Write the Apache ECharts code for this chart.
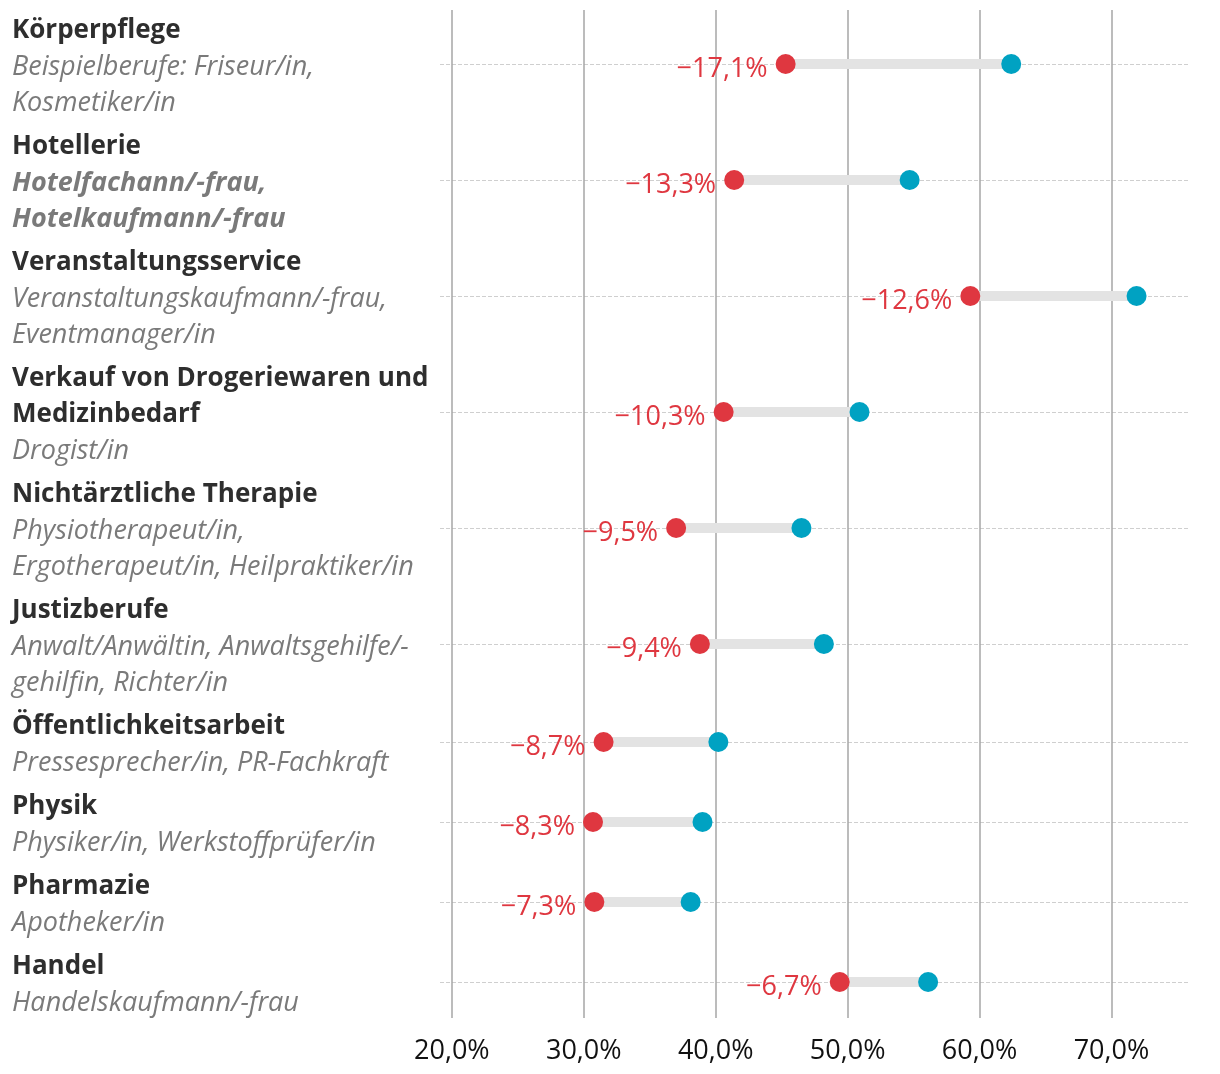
<!DOCTYPE html>
<html><head><meta charset="utf-8">
<script src="https://cdn.jsdelivr.net/npm/echarts@6/dist/echarts.min.js"></script>
<style>html,body{margin:0;padding:0;background:#fff}#c{width:1220px;height:1074px}</style>
</head><body><div id="c"></div>
<script>
const titles = [["Körperpflege"],["Hotellerie"],["Veranstaltungsservice"],["Verkauf von Drogeriewaren und","Medizinbedarf"],["Nichtärztliche Therapie"],["Justizberufe"],["Öffentlichkeitsarbeit"],["Physik"],["Pharmazie"],["Handel"]];
const subtitles = [["Beispielberufe: Friseur/in,","Kosmetiker/in"],["Hotelfachann/-frau,","Hotelkaufmann/-frau"],["Veranstaltungskaufmann/-frau,","Eventmanager/in"],["Drogist/in"],["Physiotherapeut/in,","Ergotherapeut/in, Heilpraktiker/in"],["Anwalt/Anwältin, Anwaltsgehilfe/-","gehilfin, Richter/in"],["Pressesprecher/in, PR-Fachkraft"],["Physiker/in, Werkstoffprüfer/in"],["Apotheker/in"],["Handelskaufmann/-frau"]];
const boldSubtitle = [false,true,false,false,false,false,false,false,false,false];
const valuesBefore = [62.4,54.7,71.9,50.9,46.5,48.2,40.2,39.0,38.1,56.1];
const valuesAfter = [45.3,41.4,59.3,40.6,37.0,38.8,31.5,30.7,30.8,49.4];
const changes = [-17.1,-13.3,-12.6,-10.3,-9.5,-9.4,-8.7,-8.3,-7.3,-6.7];
const xTicks = [20,30,40,50,60,70];

const FONT = 'Open Sans';
const FS_T = 26, FS = 27;
const LINE_H = 36, ROW_GAP = 8;
const RED = '#df3740', BLUE = '#00a2c2';
const heights = titles.map((t,i)=> (t.length + subtitles[i].length)*LINE_H + ROW_GAP);
const centers = [];
let acc = -4;
heights.forEach(h => { centers.push(acc + h/2); acc += h; });
const yMax = 1008;

function fmtPct(v){ return v.toFixed(1).replace('.', ',') + '%'; }
function fmtChange(v){ return (v < 0 ? '\u2212' : '') + Math.abs(v).toFixed(1).replace('.', ',') + '%'; }

const chart = echarts.init(document.getElementById('c'), null, {renderer:'canvas'});
chart.setOption({
  animation: false,
  backgroundColor: '#fff',
  grid: {left: 440, right: 32, top: 10, height: yMax, containLabel: false},
  xAxis: {
    type: 'value', min: 19.1, max: 75.8,
    axisLine: {show: false},
    axisTick: {show: false, customValues: xTicks},
    axisLabel: {customValues: xTicks, formatter: fmtPct, fontFamily: FONT, fontSize: FS, color: '#111', margin: 20},
    splitLine: {show: true, lineStyle: {color: '#a6a6a6', width: 1.5}}
  },
  yAxis: {
    type: 'value', inverse: true, min: 0, max: yMax,
    axisLine: {show: false},
    axisTick: {show: false, customValues: centers},
    splitLine: {show: true, lineStyle: {color: '#cfcfcf', width: 1.2, type: [4, 2]}},
    axisLabel: {
      customValues: centers, align: 'left', margin: 428, verticalAlign: 'middle',
      padding: [6, 0, 0, 0],
      formatter: function(v){
        let idx = 0, best = Infinity;
        centers.forEach((c,i)=>{ const d = Math.abs(c-v); if(d<best){best=d; idx=i;} });
        const st = boldSubtitle[idx] ? 'sb' : 's';
        return titles[idx].map(l=>'{t|'+l+'}').concat(subtitles[idx].map(l=>'{'+st+'|'+l+'}')).join('\n');
      },
      rich: {
        t: {fontFamily: FONT, fontSize: FS_T, fontWeight: 'bold', color: '#2e2e2e', lineHeight: LINE_H},
        s: {fontFamily: FONT, fontSize: FS, fontStyle: 'italic', color: '#7a7a7a', lineHeight: LINE_H},
        sb: {fontFamily: FONT, fontSize: FS, fontStyle: 'italic', fontWeight: 'bold', color: '#7a7a7a', lineHeight: LINE_H}
      }
    }
  },
  series: [
    {
      type: 'custom', z: 2, clip: false,
      data: valuesAfter.map((v,i)=>[v, valuesBefore[i], centers[i]]),
      renderItem: function(params, api){
        const p1 = api.coord([api.value(0), api.value(2)]);
        const p2 = api.coord([api.value(1), api.value(2)]);
        return {type: 'line', shape: {x1: p1[0], y1: p1[1], x2: p2[0], y2: p2[1]}, style: {stroke: '#e3e3e3', lineWidth: 10}};
      }
    },
    {
      type: 'scatter', z: 3, clip: false, symbolSize: 20,
      itemStyle: {color: BLUE, opacity: 1},
      data: valuesBefore.map((v,i)=>[v, centers[i]])
    },
    {
      type: 'scatter', z: 4, clip: false, symbolSize: 20,
      itemStyle: {color: RED, opacity: 1},
      label: {show: true, position: 'left', distance: 8, fontFamily: FONT, fontSize: FS, color: RED,
        offset: [0, 5],
        formatter: p => fmtChange(changes[p.dataIndex])},
      data: valuesAfter.map((v,i)=>[v, centers[i]])
    }
  ]
});
</script></body></html>
